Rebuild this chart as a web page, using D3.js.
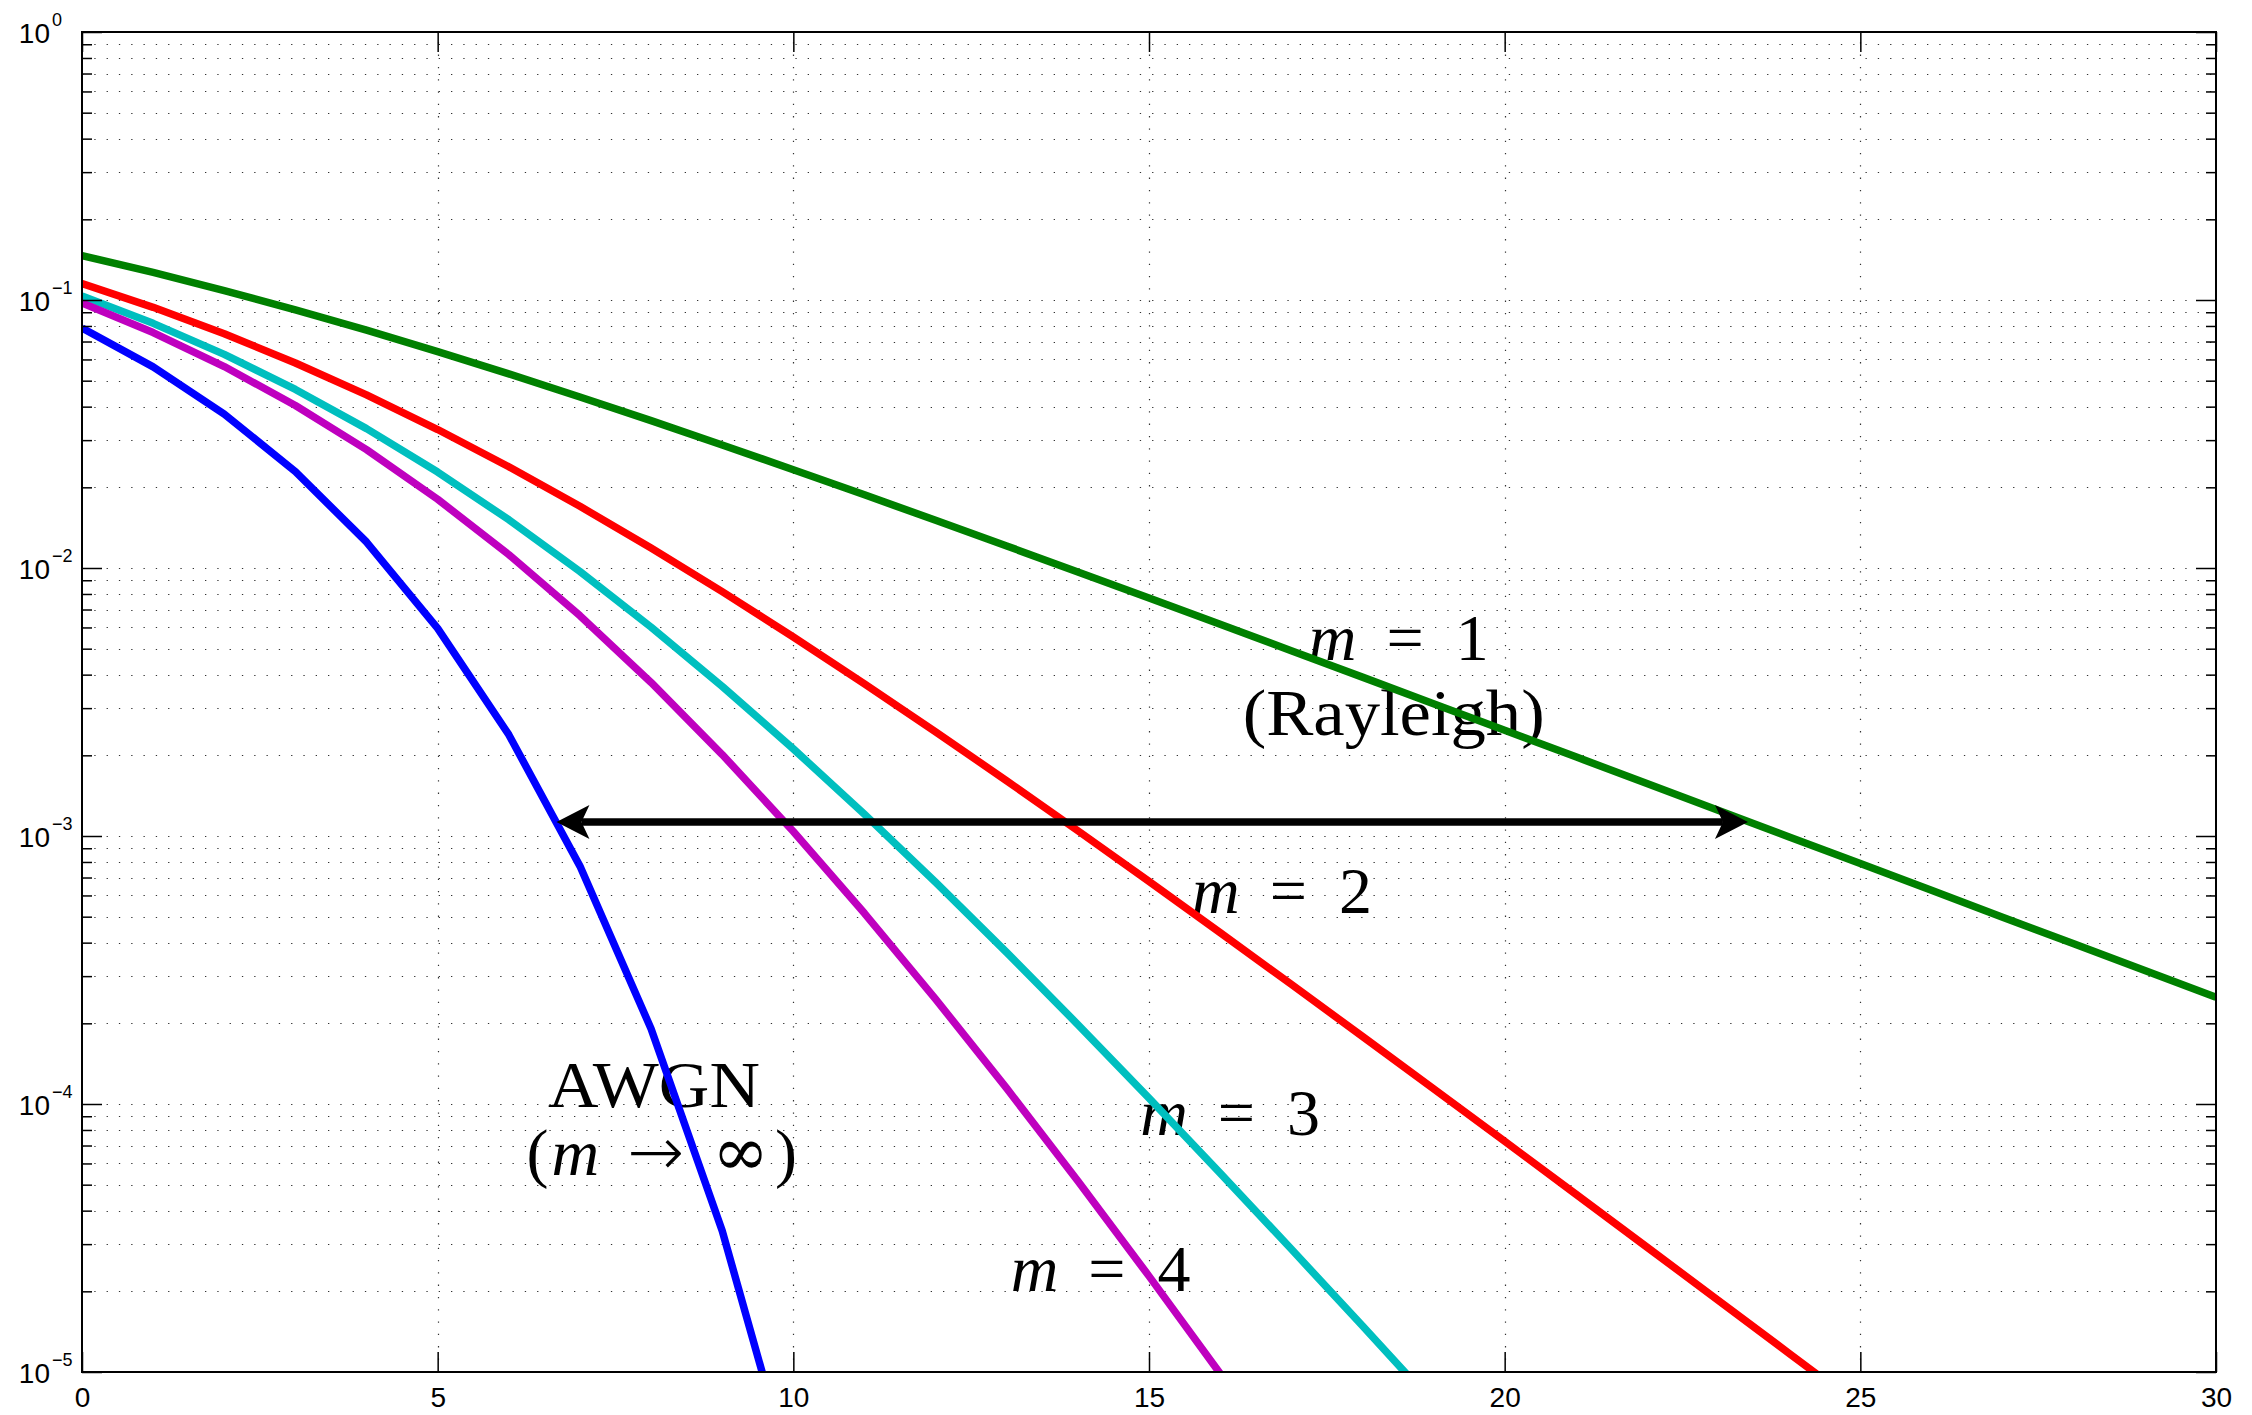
<!doctype html>
<html lang="en">
<head>
  <meta charset="utf-8">
  <title>BPSK bit error rate, Nakagami-m fading</title>
  <style>
    body { margin: 0; background: #fff; }
    svg { display: block; }
  </style>
</head>
<body>
<div id="chart"></div>
<script src="https://cdn.jsdelivr.net/npm/d3@7"></script>
<script>
  // Data --------------------------------------------------------------------------------
  const snrDb = [0, 1, 2, 3, 4, 5, 6, 7, 8, 9, 10, 11, 12, 13, 14, 15, 16, 17, 18, 19, 20,
    21, 22, 23, 24, 25, 26, 27, 28, 29, 30];

  const berAwgn = [0.07865, 0.05630, 0.03751, 0.02288, 0.01250, 0.005954, 0.002388, 0.000772,
    0.0001909, 0.00003363, 0.000003872];

  const berM1 = [0.14645, 0.12673, 0.10848, 0.09191, 0.07714, 0.06418, 0.05300, 0.04347, 0.03546,
    0.02878, 0.02327, 0.01875, 0.01507, 0.01208, 0.009666, 0.007723, 0.006164, 0.004915, 0.003916,
    0.003118, 0.002481, 0.001974, 0.001570, 0.001248, 0.000992, 0.000789, 0.000627, 0.000498,
    0.000396, 0.000315, 0.000250];

  const berM2 = [0.11510, 0.09388, 0.07481, 0.05822, 0.04424, 0.03286, 0.02387, 0.01699, 0.01187,
    0.008161, 0.005528, 0.003698, 0.002448, 0.001606, 0.001046, 0.0006770, 0.0004361, 0.0002797,
    0.0001788, 0.0001140, 0.00007257, 0.00004610, 0.00002924, 0.00001853, 0.00001173, 0.000007422];

  const berM3 = [0.10352, 0.08183, 0.06266, 0.04637, 0.03311, 0.02280, 0.01514, 0.009708, 0.006019,
    0.003618, 0.002114, 0.001205, 0.0006716, 0.0003675, 0.0001979, 0.0001051, 0.00005524,
    0.00002876, 0.00001487, 0.000007637];

  const berM4 = [0.09751, 0.07561, 0.05644, 0.04041, 0.02765, 0.01805, 0.01122, 0.006637, 0.003742,
    0.002014, 0.001039, 0.0005148, 0.0002463, 0.0001143, 0.00005161, 0.00002279, 0.000009869];

  const xTicks = [0, 5, 10, 15, 20, 25, 30];
  const yDecades = [1e-5, 1e-4, 1e-3, 1e-2, 1e-1, 1];
  const yExponents = ["\u22125", "\u22124", "\u22123", "\u22122", "\u22121", "0"];

  // double arrow between AWGN and Rayleigh at the same error rate
  const arrowSpan = [6.67, 23.42];
  const arrowLevel = 1.128e-3;

  // annotation text: pieces [text, kind, gap before], centre x (dB), baseline (BER)
  // kind: n = upright serif, i = italic serif, s = symbol
  const labels = [
    { parts: [["m", "i", 0], ["=", "n", 30], ["1", "n", 32]], x: 18.51, y: 4.53e-3 },
    { parts: [["(Rayleigh)", "n", 0]], x: 18.44, y: 2.38e-3, w: 302 },
    { parts: [["m", "i", 0], ["=", "n", 30], ["2", "n", 32]], x: 16.87, y: 5.15e-4 },
    { parts: [["m", "i", 0], ["=", "n", 30], ["3", "n", 32]], x: 16.14, y: 7.64e-5 },
    { parts: [["m", "i", 0], ["=", "n", 30], ["4", "n", 32]], x: 14.32, y: 2.01e-5 },
    { parts: [["AWGN", "n", 0]], x: 8.04, y: 9.72e-5, w: 212 },
    { parts: [["(", "n", 0], ["m", "i", 3], ["\u2192", "s", 28], ["\u221e", "s", 28], [")", "n", 6]],
      x: 8.15, y: 5.42e-5 }
  ];

  const series = [
    { name: "m1", color: "#008000", values: berM1 },
    { name: "m2", color: "#ff0000", values: berM2 },
    { name: "m3", color: "#00bfbf", values: berM3 },
    { name: "m4", color: "#bf00bf", values: berM4 },
    { name: "awgn", color: "#0000ff", values: berAwgn }
  ];

  // Canvas ------------------------------------------------------------------------------
  const width = 2252;
  const height = 1415;
  const plotLeft = 82, plotRight = 2216, plotTop = 32, plotBottom = 1372;

  const svg = d3.select("#chart")
    .append("svg")
    .attr("width", width)
    .attr("height", height)
    .attr("viewBox", [0, 0, width, height]);

  svg.append("rect")
    .attr("width", width)
    .attr("height", height)
    .attr("fill", "#fff");

  const x = d3.scaleLinear().domain([0, 30]).range([plotLeft, plotRight]);
  const y = d3.scaleLog().domain([1e-5, 1]).range([plotBottom, plotTop]);

  const allY = y.ticks();
  const minorY = allY.filter(v => !yDecades.some(d => Math.abs(d - v) / d < 1e-6));

  // Grid --------------------------------------------------------------------------------
  const grid = svg.append("g")
    .attr("stroke", "#333")
    .attr("stroke-width", 1.2)
    .attr("stroke-dasharray", "1.3 11")
    .attr("fill", "none");

  grid.selectAll("line.h")
    .data(allY.filter(v => v > 1e-5 && v < 1))
    .enter()
    .append("line")
    .attr("class", "h")
    .attr("x1", plotLeft)
    .attr("x2", plotRight)
    .attr("y1", d => Math.round(y(d)) + 0.5)
    .attr("y2", d => Math.round(y(d)) + 0.5);

  grid.selectAll("line.v")
    .data(xTicks.filter(v => v > 0 && v < 30))
    .enter()
    .append("line")
    .attr("class", "v")
    .attr("x1", d => Math.round(x(d)) + 0.5)
    .attr("x2", d => Math.round(x(d)) + 0.5)
    .attr("y1", plotBottom)
    .attr("y2", plotTop);

  // Annotation text (under the curves, as in the reference) ----------------------------
  const fontFor = {
    n: "'Liberation Serif', 'DejaVu Serif', serif",
    i: "'Liberation Serif', 'DejaVu Serif', serif",
    s: "'DejaVu Sans', 'DejaVu Serif', sans-serif"
  };

  labels.forEach(l => {
    const t = svg.append("text")
      .attr("x", x(l.x))
      .attr("y", y(l.y))
      .attr("text-anchor", "middle")
      .attr("font-size", 66)
      .attr("fill", "#000");
    if (l.w) {
      t.attr("textLength", l.w).attr("lengthAdjust", "spacingAndGlyphs");
    }
    l.parts.forEach(p => {
      t.append("tspan")
        .attr("dx", p[2])
        .attr("font-family", fontFor[p[1]])
        .attr("font-style", p[1] === "i" ? "italic" : "normal")
        .attr("font-size", p[1] === "s" ? 68 : 66)
        .attr("font-weight", p[1] === "s" ? 300 : 400)
        .text(p[0]);
    });
  });

  // Curves ------------------------------------------------------------------------------
  svg.append("defs")
    .append("clipPath")
    .attr("id", "plot-clip")
    .append("rect")
    .attr("x", plotLeft)
    .attr("y", plotTop)
    .attr("width", plotRight - plotLeft)
    .attr("height", plotBottom - plotTop);

  const line = d3.line()
    .x((d, i) => x(snrDb[i]))
    .y(d => y(d));

  svg.append("g")
    .attr("clip-path", "url(#plot-clip)")
    .selectAll("path")
    .data(series)
    .enter()
    .append("path")
    .attr("d", d => line(d.values))
    .attr("fill", "none")
    .attr("stroke", d => d.color)
    .attr("stroke-width", 7.5)
    .attr("stroke-linejoin", "round");

  // Double-headed arrow -----------------------------------------------------------------
  const ax0 = x(arrowSpan[0]);
  const ax1 = x(arrowSpan[1]);
  const ay = y(arrowLevel);
  const headLen = 33, headHalf = 17, notch = 8;

  svg.append("line")
    .attr("x1", ax0 + headLen - notch)
    .attr("x2", ax1 - headLen + notch)
    .attr("y1", ay)
    .attr("y2", ay)
    .attr("stroke", "#000")
    .attr("stroke-width", 7.5);

  svg.append("path")
    .attr("d", `M${ax0},${ay} L${ax0 + headLen},${ay - headHalf} L${ax0 + headLen - notch},${ay} ` +
      `L${ax0 + headLen},${ay + headHalf} Z`)
    .attr("fill", "#000");

  svg.append("path")
    .attr("d", `M${ax1},${ay} L${ax1 - headLen},${ay - headHalf} L${ax1 - headLen + notch},${ay} ` +
      `L${ax1 - headLen},${ay + headHalf} Z`)
    .attr("fill", "#000");

  // Axes box and ticks ------------------------------------------------------------------
  function styleAxis(g) {
    g.select(".domain").remove();
    g.selectAll("line").attr("stroke", "#000").attr("stroke-width", 1.5);
    g.selectAll("text")
      .attr("font-family", "'Liberation Sans', Arial, sans-serif")
      .attr("font-size", 28)
      .attr("fill", "#000");
  }

  svg.append("g")
    .attr("transform", `translate(0,${plotBottom})`)
    .call(d3.axisBottom(x).tickValues(xTicks).tickSizeInner(-20).tickSizeOuter(0).tickPadding(15)
      .tickFormat(d3.format("d")))
    .call(styleAxis);

  svg.append("g")
    .attr("transform", `translate(0,${plotTop})`)
    .call(d3.axisTop(x).tickValues(xTicks).tickSizeInner(-20).tickSizeOuter(0).tickFormat(""))
    .call(styleAxis);

  svg.append("g")
    .attr("transform", `translate(${plotLeft},0)`)
    .call(d3.axisLeft(y).tickValues(yDecades).tickSizeInner(-20).tickSizeOuter(0).tickFormat(""))
    .call(styleAxis);

  svg.append("g")
    .attr("transform", `translate(${plotLeft},0)`)
    .call(d3.axisLeft(y).tickValues(minorY).tickSizeInner(-10).tickSizeOuter(0).tickFormat(""))
    .call(styleAxis);

  svg.append("g")
    .attr("transform", `translate(${plotRight},0)`)
    .call(d3.axisRight(y).tickValues(yDecades).tickSizeInner(-20).tickSizeOuter(0).tickFormat(""))
    .call(styleAxis);

  svg.append("g")
    .attr("transform", `translate(${plotRight},0)`)
    .call(d3.axisRight(y).tickValues(minorY).tickSizeInner(-10).tickSizeOuter(0).tickFormat(""))
    .call(styleAxis);

  svg.append("rect")
    .attr("x", plotLeft)
    .attr("y", plotTop)
    .attr("width", plotRight - plotLeft)
    .attr("height", plotBottom - plotTop)
    .attr("fill", "none")
    .attr("stroke", "#000")
    .attr("stroke-width", 2);

  // Y tick labels as 10 with a superscript exponent
  const yLabels = svg.append("g")
    .attr("font-family", "'Liberation Sans', Arial, sans-serif")
    .attr("fill", "#000");

  yDecades.forEach((d, i) => {
    yLabels.append("text")
      .attr("x", 50)
      .attr("y", y(d) + 11)
      .attr("text-anchor", "end")
      .attr("font-size", 28)
      .text("10");
    yLabels.append("text")
      .attr("x", 52)
      .attr("y", y(d) - 6)
      .attr("text-anchor", "start")
      .attr("font-size", 18)
      .text(yExponents[i]);
  });
</script>
</body>
</html>
